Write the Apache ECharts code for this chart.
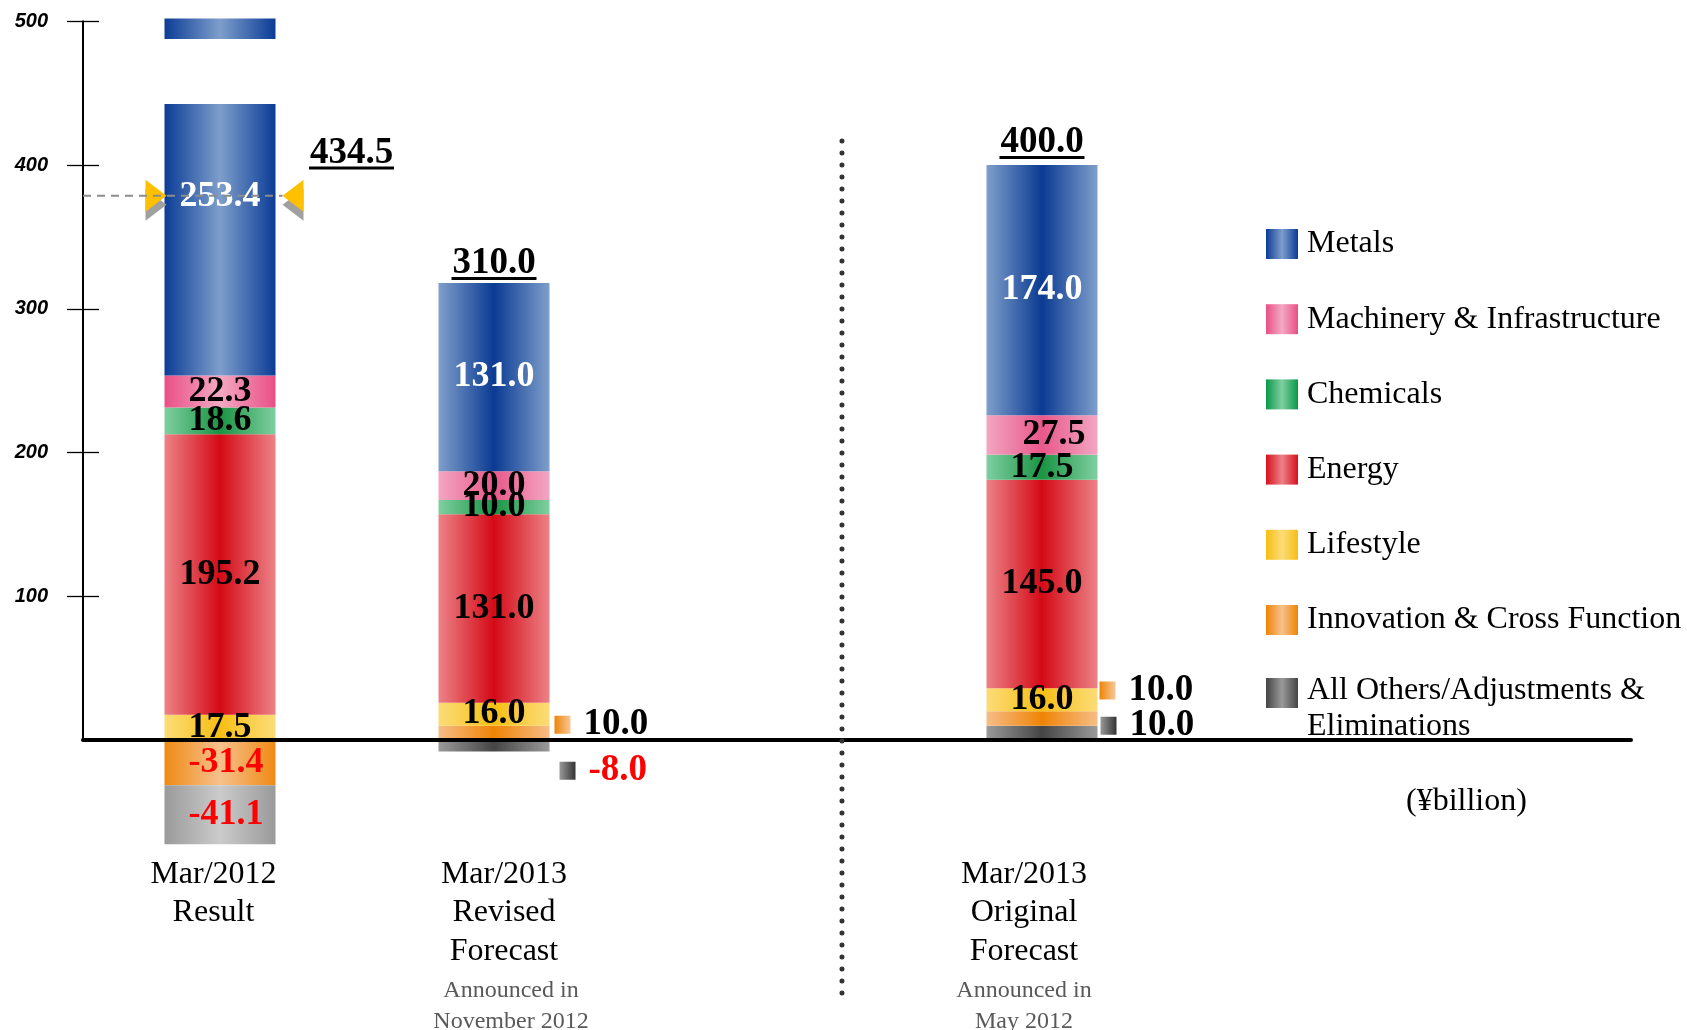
<!DOCTYPE html>
<html>
<head>
<meta charset="utf-8">
<script src="https://cdn.jsdelivr.net/npm/echarts@6/dist/echarts.min.js"></script>
<style>html,body{margin:0;padding:0;background:#fff}#c{width:1687px;height:1030px}</style>
</head>
<body>
<div id="c"></div>
<script>
// ---------------- DATA ----------------
const categories = ['Mar/2012\nResult', 'Mar/2013\nRevised\nForecast', '', 'Mar/2013\nOriginal\nForecast'];
const notes = ['', 'Announced in\nNovember 2012', '', 'Announced in\nMay 2012'];
const segments = ['Metals', 'Machinery & Infrastructure', 'Chemicals', 'Energy', 'Lifestyle',
                  'Innovation & Cross Function', 'All Others/Adjustments &\nEliminations'];
const metals     = [253.4, 131.0, '-', 174.0];
const machinery  = [22.3, 20.0, '-', 27.5];
const chemicals  = [18.6, 10.0, '-', 17.5];
const energy     = [195.2, 131.0, '-', 145.0];
const lifestyle  = [17.5, 16.0, '-', 16.0];
const innovation = [-31.4, 10.0, '-', 10.0];
const others     = [-41.1, -8.0, '-', 10.0];
const totals     = [434.5, 310.0, '-', 400.0];
const yTicks     = [100, 200, 300, 400, 500];
const unitLabel  = '(¥billion)';

// ---------------- LAYOUT / STYLE ----------------
const SERIF = "'Liberation Serif','Times New Roman',serif";
const SANS = "'Liberation Sans',Arial,sans-serif";
const ZERO_Y = 740, PX = 1.4374;
const A_MIN = -80, A_MAX = 502;
const GRID_LEFT = 83, BAND = 274, BAR_W = 111;
const B_RIGHT = 1631;

const grad = (e, c) => new echarts.graphic.LinearGradient(0, 0, 1, 0,
  [{offset: 0, color: e}, {offset: 0.5, color: c}, {offset: 1, color: e}]);
const grad2 = (l, r) => new echarts.graphic.LinearGradient(0, 0, 1, 0,
  [{offset: 0, color: l}, {offset: 1, color: r}]);

const styles = [
  {legend: grad('#0b3c96', '#7e9ecb'), bars: [grad('#0b3c96', '#7e9ecb'), grad('#7f9fcb', '#0a3a92'), null, grad('#7f9fcb', '#0a3a92')], color: '#fff'},
  {legend: grad('#e94f85', '#f4a9c3'), bars: [grad('#e94f85', '#f4a9c3'), grad('#f2a6c1', '#e8588b'), null, grad('#f2a6c1', '#e8588b')]},
  {legend: grad('#0a9848', '#7fcfa1'), bars: [grad('#7fcfa1', '#1a9443'), grad('#7fcfa1', '#1a9443'), null, grad('#7fcfa1', '#1a9443')]},
  {legend: grad('#d6101c', '#ec8287'), bars: [grad('#ec8287', '#d40a16'), grad('#ec8287', '#d40a16'), null, grad('#ec8287', '#d40a16')]},
  {legend: grad('#f6bf14', '#fcdc78'), bars: [grad('#fcdc78', '#f6bf14'), grad('#fcdc78', '#f6bf14'), null, grad('#fcdc78', '#f6bf14')]},
  {legend: grad('#ef8405', '#f6c18c'), bars: [grad('#f08a14', '#f6c18c'), grad('#f6bd86', '#ef8405'), null, grad('#f6bd86', '#ef8405')], sq: grad2('#ef8405', '#f7c89a')},
  {legend: grad('#444444', '#9a9a9a'), bars: [grad('#9a9a9a', '#cbcbcb'), grad('#9a9a9a', '#454545'), null, grad('#9a9a9a', '#454545')], sq: grad2('#9a9a9a', '#333333')}
];
// side labels for thin segments: key "segment-bar"
const sideLabels = {'5-1': {dist: 5, dy: -8}, '6-1': {dist: 10, dy: 25}, '5-3': {dist: 2, dy: -28}, '6-3': {dist: 3, dy: -7}};
const labelShift = {'1-3': [12, 0]};

// Split "others" so negative stacking puts Innovation directly under zero
const othersFirst = others.map((v, i) => (typeof v === 'number' && v < 0 && innovation[i] < 0) ? '-' : v);
const othersAfter = others.map((v, i) => (typeof v === 'number' && v < 0 && innovation[i] < 0) ? v : '-');

const stackDefs = [
  {seg: 6, values: othersFirst},
  {seg: 5, values: innovation},
  {seg: 6, values: othersAfter},
  {seg: 4, values: lifestyle},
  {seg: 3, values: energy},
  {seg: 2, values: chemicals},
  {seg: 1, values: machinery},
  {seg: 0, values: metals}
];

const valueFont = {fontFamily: SERIF, fontWeight: 'bold', fontSize: 36};

function buildItem(seg, i, v) {
  if (typeof v !== 'number') return '-';
  const st = styles[seg];
  const key = seg + '-' + i;
  const txt = v.toFixed(1);
  let label;
  if (sideLabels[key]) {
    const s = sideLabels[key];
    label = {
      show: true, position: 'right', distance: s.dist, offset: [0, s.dy],
      formatter: '{sq|}{t|' + txt + '}',
      rich: {
        sq: {width: 16, height: 18, backgroundColor: st.sq, verticalAlign: 'middle'},
        t: Object.assign({color: v < 0 ? '#ff0000' : '#000', padding: [0, 0, 0, 13], verticalAlign: 'middle'}, valueFont, {fontSize: 37})
      }
    };
  } else {
    label = Object.assign({
      show: true, position: 'inside', formatter: txt,
      color: v < 0 ? '#ff0000' : (st.color || '#000'),
      textBorderWidth: 0,
      offset: v < 0 ? [6, 0] : (labelShift[key] || [0, 0])
    }, valueFont);
  }
  return {value: v, itemStyle: {color: st.bars[i]}, label: label};
}

const barSeries = stackDefs.map(d => ({
  type: 'bar',
  name: segments[d.seg],
  stack: 'total',
  xAxisIndex: 0, yAxisIndex: 0,
  barWidth: BAR_W,
  clip: true,
  itemStyle: {color: styles[d.seg].legend},
  emphasis: {disabled: true},
  data: d.values.map((v, i) => buildItem(d.seg, i, v))
}));

const allSeg = [metals, machinery, chemicals, energy, lifestyle, innovation, others];
const posSum = categories.map((_, i) => allSeg.reduce((s, a) => (typeof a[i] === 'number' && a[i] > 0) ? s + a[i] : s, 0));

const totalLabelPos = [
  {position: 'inside', offset: [131.5, 144.8]},
  {position: 'top', distance: 1},
  null,
  {position: 'top', distance: 4}
];
const totalSeries = {
  type: 'scatter', name: 'total', xAxisIndex: 0, yAxisIndex: 0, clip: false,
  symbolSize: 1, itemStyle: {color: 'rgba(0,0,0,0)', opacity: 1}, z: 5,
  emphasis: {disabled: true},
  data: totals.map((t, i) => typeof t !== 'number' ? '-' : {
    value: posSum[i],
    itemStyle: {opacity: 1},
    label: Object.assign({
      show: true, color: '#000', textBorderWidth: 0,
      formatter: '{v|' + t.toFixed(1) + '}\n{u|}',
      rich: {
        v: {fontFamily: SERIF, fontWeight: 'bold', fontSize: 37, lineHeight: 24, color: '#000', textBorderWidth: 0},
        u: {width: 85, height: 3, backgroundColor: '#000', lineHeight: 6}
      }
    }, totalLabelPos[i])
  })
};

const xCatPad = [[0, 13, 0, 0], [0, 0, 0, 20], [0, 0, 0, 0], [0, 36, 0, 0]];
const legendText = {fontFamily: SERIF, fontSize: 32, lineHeight: 36, color: '#000'};

const option = {
  backgroundColor: '#fff',
  animation: false,
  title: {
    text: unitLabel, left: 1406, top: 786, padding: 0,
    textStyle: {fontFamily: SERIF, fontSize: 32, fontWeight: 'normal', color: '#000'}
  },
  grid: [
    {left: GRID_LEFT, top: ZERO_Y - A_MAX * PX, width: BAND * categories.length, height: (A_MAX - A_MIN) * PX, outerBoundsMode: 'none', containLabel: false},
    {left: GRID_LEFT, top: ZERO_Y - 500 * PX, width: B_RIGHT - GRID_LEFT, height: 500 * PX, outerBoundsMode: 'none', containLabel: false}
  ],
  legend: [
    {
      data: segments.slice(0, 6), orient: 'vertical', left: 1266, top: 226, padding: 0,
      itemWidth: 32, itemHeight: 30, itemGap: 39.2, icon: 'rect', selectedMode: false,
      textStyle: Object.assign({padding: [0, 0, 0, 4]}, legendText)
    },
    {
      data: segments.slice(6), orient: 'vertical', left: 1266, top: 641, padding: 0,
      itemWidth: 32, itemHeight: 30, icon: 'rect', selectedMode: false,
      formatter: name => '{p|}\n' + name.split('\n').map(l => '{t|' + l + '}').join('\n'),
      textStyle: Object.assign({
        rich: {
          p: {lineHeight: 32, fontSize: 10, padding: [0, 0, 0, 4]},
          t: Object.assign({padding: [0, 0, 0, 4]}, legendText)
        }
      }, legendText)
    }
  ],
  xAxis: [
    {
      gridIndex: 0, type: 'category',
      data: categories.map((c, i) => ({value: c, textStyle: {padding: xCatPad[i]}})),
      axisLine: {show: false, onZero: false}, axisTick: {show: false},
      axisLabel: {
        margin: 0, interval: 0,
        formatter: (val, idx) => {
          if (!val) return '';
          let s = val.split('\n').map(l => '{a|' + l + '}').join('\n');
          if (notes[idx]) {
            const n = notes[idx].split('\n');
            const sfx = idx === 1 ? 'r' : '';
            s += '\n{b1' + sfx + '|' + n[0] + '}';
            if (n[1]) s += '\n{b2' + sfx + '|' + n[1] + '}';
          }
          return s;
        },
        rich: {
          a: {fontFamily: SERIF, fontSize: 32, lineHeight: 38.5, color: '#000'},
          b1: {fontFamily: SERIF, fontSize: 24, lineHeight: 40, color: '#595959'},
          b2: {fontFamily: SERIF, fontSize: 24, lineHeight: 22, color: '#595959'},
          b1r: {fontFamily: SERIF, fontSize: 24, lineHeight: 40, color: '#595959', padding: [0, 0, 0, 14]},
          b2r: {fontFamily: SERIF, fontSize: 24, lineHeight: 22, color: '#595959', padding: [0, 0, 0, 14]}
        }
      },
      splitLine: {show: false}
    },
    {
      gridIndex: 1, type: 'value', min: 0, max: 1, z: 10,
      axisLine: {show: true, lineStyle: {color: '#000', width: 4}},
      axisTick: {show: false}, axisLabel: {show: false}, splitLine: {show: false}
    }
  ],
  yAxis: [
    {gridIndex: 0, type: 'value', min: A_MIN, max: A_MAX, show: false, splitLine: {show: false}},
    {
      gridIndex: 1, type: 'value', min: 0, max: 500, interval: 100, position: 'left', z: 10,
      axisLine: {show: true, onZero: false, lineStyle: {color: '#000', width: 2}},
      axisTick: {show: true, length: 16, customValues: yTicks, lineStyle: {color: '#000', width: 1.3}},
      axisLabel: {customValues: yTicks, margin: 35, fontFamily: SANS, fontWeight: 'bold', fontStyle: 'italic', fontSize: 20, color: '#000'},
      splitLine: {show: false}
    },
    {
      gridIndex: 1, type: 'value', min: 0, max: 500, interval: 100, position: 'left', offset: 0, z: 10,
      axisLine: {show: false, onZero: false},
      axisTick: {show: true, inside: true, length: 16, customValues: yTicks, lineStyle: {color: '#000', width: 1.3}},
      axisLabel: {show: false}, splitLine: {show: false}
    }
  ],
  series: barSeries.concat([totalSeries])
};

const chart = echarts.init(document.getElementById('c'));
chart.setOption(option);

// ---------------- DECORATIONS (break marks / separator) ----------------
const BREAK_LO = 442.5, BREAK_HI = 487.7, MARK_VALUE = 378.6;
const px = (ci, v) => chart.convertToPixel({gridIndex: 0}, [ci, v]);
const c0 = px(0, 0)[0];
const half = BAR_W / 2;
const yHi = px(0, BREAK_HI)[1], yLo = px(0, BREAK_LO)[1];
const my = px(0, MARK_VALUE)[1];
const L = c0 - half, R = c0 + half;
const axisX = c0 - BAND / 2;
const sepX = px(2, 0)[0] + 0.27 * BAND;
const tri = (pts, fill) => ({type: 'polygon', z: 100, shape: {points: pts}, style: {fill: fill}});
const sh = 9;
chart.setOption({
  graphic: [
    {type: 'rect', z: 99, shape: {x: L - 2, y: yHi, width: BAR_W + 4, height: yLo - yHi}, style: {fill: '#fff'}},
    {type: 'line', z: 101, shape: {x1: axisX, y1: my, x2: R + 7, y2: my}, style: {stroke: '#8c8c8c', lineWidth: 2, lineDash: [8, 6]}},
    tri([[L - 19, my - 16 + sh], [L + 2, my + sh], [L - 19, my + 16 + sh]], '#a0a0a0'),
    tri([[L - 19, my - 16], [L + 2, my], [L - 19, my + 16]], '#ffc000'),
    tri([[R + 28, my - 16 + sh], [R + 7, my + sh], [R + 28, my + 16 + sh]], '#a0a0a0'),
    tri([[R + 28, my - 16], [R + 7, my], [R + 28, my + 16]], '#ffc000'),
    {type: 'line', z: 100, shape: {x1: sepX, y1: 141, x2: sepX, y2: 1005}, style: {stroke: '#333', lineWidth: 5, lineDash: [0, 12], lineCap: 'round'}}
  ]
});
</script>
</body>
</html>
